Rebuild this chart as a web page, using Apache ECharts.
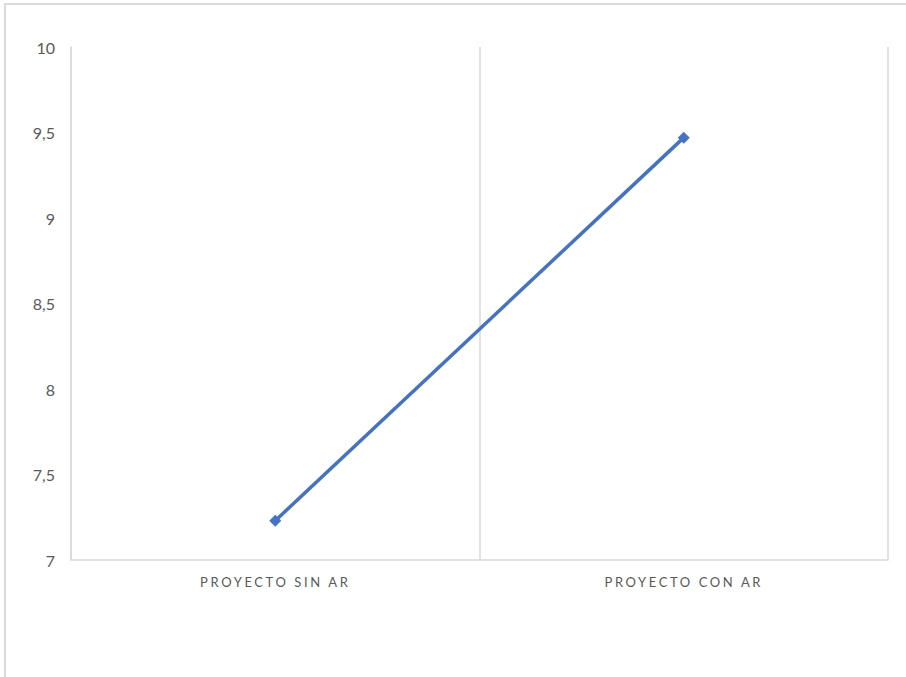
<!DOCTYPE html>
<html>
<head>
<meta charset="utf-8">
<script src="https://cdn.jsdelivr.net/npm/echarts@6/dist/echarts.min.js"></script>
<style>
  html, body { margin: 0; padding: 0; background: #ffffff; }
  #frame { position: absolute; left: 4px; top: 3px; width: 910px; height: 700px;
           border-top: 2px solid #d9d9d9; border-left: 2px solid #d9d9d9; }
  #chart { position: absolute; left: 0; top: 0; width: 906px; height: 677px; }
  #chart text[text-anchor="middle"] { letter-spacing: 2.6px; }
</style>
</head>
<body>
<div id="frame"></div>
<div id="chart"></div>
<script>
var categories = ['PROYECTO SIN AR', 'PROYECTO CON AR'];
var values = [7.23, 9.47];
var yMin = 7, yMax = 10, yStep = 0.5;

var chart = echarts.init(document.getElementById('chart'), null, { renderer: 'svg' });
chart.setOption({
  backgroundColor: 'transparent',
  animation: false,
  grid: { left: 71, right: 18, top: 47, bottom: 117, containLabel: false },
  xAxis: {
    type: 'category',
    data: categories,
    boundaryGap: true,
    axisLine: { show: true, lineStyle: { color: '#d9d9d9', width: 1.5 } },
    axisTick: { show: false },
    splitLine: { show: true, lineStyle: { color: '#d9d9d9', width: 1.5 } },
    axisLabel: { color: '#595959', fontFamily: 'Lato', fontSize: 13, margin: 15 }
  },
  yAxis: {
    type: 'value',
    min: yMin, max: yMax, interval: yStep,
    axisLine: { show: true, lineStyle: { color: '#d9d9d9', width: 1.5 } },
    axisTick: { show: false },
    splitLine: { show: false },
    axisLabel: {
      color: '#595959', fontFamily: 'Lato', fontSize: 16, margin: 16,
      formatter: function (v) { return String(v).replace('.', ','); }
    }
  },
  series: [{
    type: 'line',
    data: values,
    symbol: 'diamond',
    symbolSize: 12,
    lineStyle: { color: '#4472C4', width: 3.5 },
    itemStyle: { color: '#4472C4' }
  }]
});
</script>
</body>
</html>
